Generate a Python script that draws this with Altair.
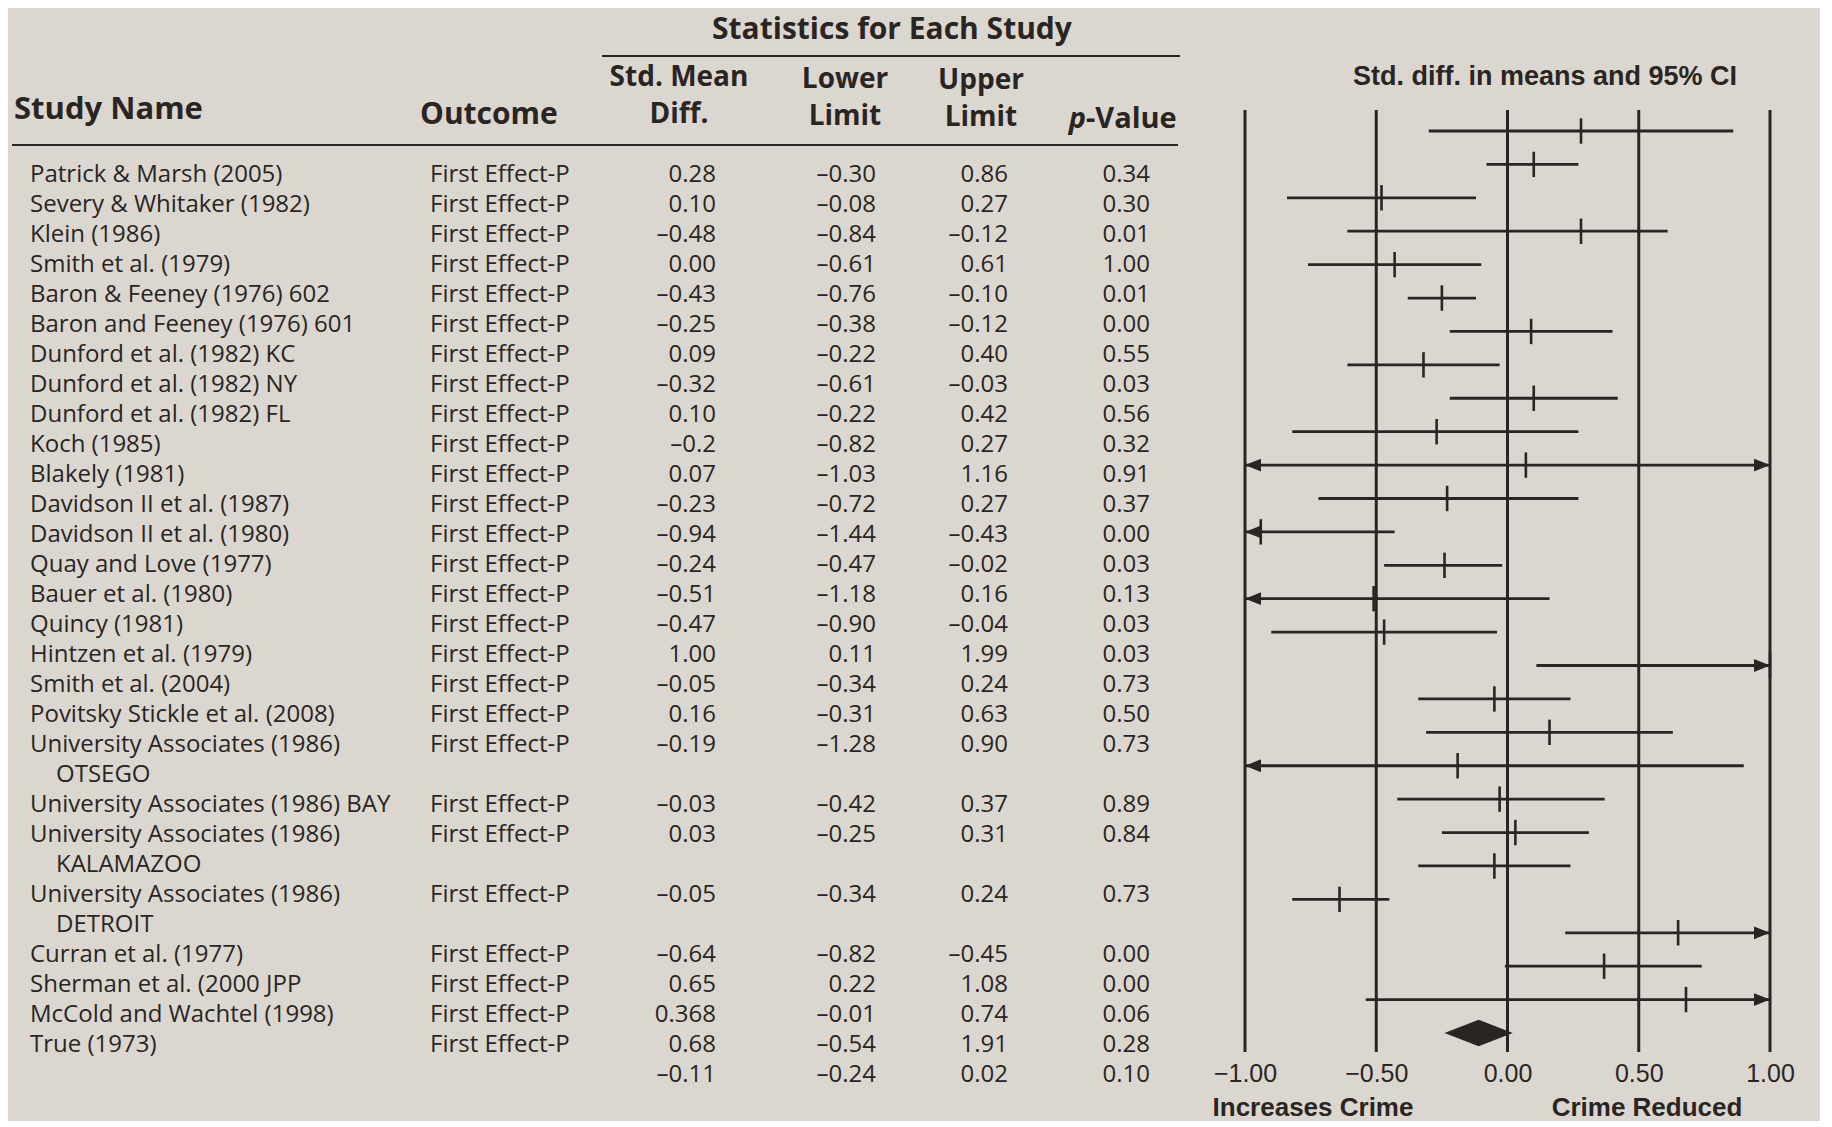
import altair as alt
import pandas as pd

# ---------------- data ----------------
study = [
    "Patrick & Marsh (2005)", "Severy & Whitaker (1982)", "Klein (1986)",
    "Smith et al. (1979)", "Baron & Feeney (1976) 602", "Baron and Feeney (1976) 601",
    "Dunford et al. (1982) KC", "Dunford et al. (1982) NY", "Dunford et al. (1982) FL",
    "Koch (1985)", "Blakely (1981)", "Davidson II et al. (1987)",
    "Davidson II et al. (1980)", "Quay and Love (1977)", "Bauer et al. (1980)",
    "Quincy (1981)", "Hintzen et al. (1979)", "Smith et al. (2004)",
    "Povitsky Stickle et al. (2008)", "University Associates (1986)",
    "University Associates (1986) BAY", "University Associates (1986)",
    "University Associates (1986)", "Curran et al. (1977)", "Sherman et al. (2000 JPP",
    "McCold and Wachtel (1998)", "True (1973)",
]
study_line2 = [""] * 19 + ["OTSEGO", "", "KALAMAZOO", "DETROIT"] + [""] * 4
outcome = ["First Effect-P"] * 27
smd_txt = ["0.28", "0.10", "–0.48", "0.00", "–0.43", "–0.25", "0.09", "–0.32", "0.10",
           "–0.2", "0.07", "–0.23", "–0.94", "–0.24", "–0.51", "–0.47", "1.00", "–0.05",
           "0.16", "–0.19", "–0.03", "0.03", "–0.05", "–0.64", "0.65", "0.368", "0.68"]
lower_txt = ["–0.30", "–0.08", "–0.84", "–0.61", "–0.76", "–0.38", "–0.22", "–0.61", "–0.22",
             "–0.82", "–1.03", "–0.72", "–1.44", "–0.47", "–1.18", "–0.90", "0.11", "–0.34",
             "–0.31", "–1.28", "–0.42", "–0.25", "–0.34", "–0.82", "0.22", "–0.01", "–0.54"]
upper_txt = ["0.86", "0.27", "–0.12", "0.61", "–0.10", "–0.12", "0.40", "–0.03", "0.42",
             "0.27", "1.16", "0.27", "–0.43", "–0.02", "0.16", "–0.04", "1.99", "0.24",
             "0.63", "0.90", "0.37", "0.31", "0.24", "–0.45", "1.08", "0.74", "1.91"]
p_txt = ["0.34", "0.30", "0.01", "1.00", "0.01", "0.00", "0.55", "0.03", "0.56",
         "0.32", "0.91", "0.37", "0.00", "0.03", "0.13", "0.03", "0.03", "0.73",
         "0.50", "0.73", "0.89", "0.84", "0.73", "0.00", "0.00", "0.06", "0.28"]
# point estimates as drawn in the forest plot
plot_est = [0.28, 0.10, -0.48, 0.28, -0.43, -0.25, 0.09, -0.32, 0.10,
            -0.27, 0.07, -0.23, -0.94, -0.24, -0.51, -0.47, 1.00, -0.05,
            0.16, -0.19, -0.03, 0.03, -0.05, -0.64, 0.65, 0.368, 0.68]
summary_txt = ["–0.11", "–0.24", "0.02", "0.10"]
grid_values = [-1.0, -0.5, 0.0, 0.5, 1.0]


def num(s):
    return float(s.replace("–", "-"))


# ---------------- styles ----------------
BG = "#dbd7d0"
INK = "#2a2522"
TFONT = "Open Sans"
AFONT = "Liberation Sans"
ROW_SIZE = 24
HEAD_SIZE = 28

# ---------------- table frame ----------------
rows = []
slot = 0
for i in range(len(study)):
    rows.append(dict(slot=slot, name=study[i], line2=study_line2[i], outcome=outcome[i],
                     smd=smd_txt[i], lo=lower_txt[i], hi=upper_txt[i], p=p_txt[i]))
    slot += 2 if study_line2[i] else 1
rows.append(dict(slot=slot, name="", line2="", outcome="", smd=summary_txt[0],
                 lo=summary_txt[1], hi=summary_txt[2], p=summary_txt[3]))
table_df = pd.DataFrame(rows)

ys_table = alt.Scale(domain=[0, 30], range=[167, 1067], nice=False, zero=False)
one = pd.DataFrame({"k": [0]})


def col(field, x, align, dy_slot=0, filt=None):
    c = alt.Chart(table_df)
    if filt:
        c = c.transform_filter(filt)
    c = c.transform_calculate(ys=f"datum.slot + {dy_slot}")
    return c.mark_text(align=align, baseline="middle", font=TFONT, fontSize=ROW_SIZE,
                       color=INK).encode(
        x=alt.value(x),
        y=alt.Y("ys:Q", scale=ys_table, axis=None),
        text=alt.Text(f"{field}:N"),
    )


def label(text, x, y, align="center", size=HEAD_SIZE, weight="bold", style="normal",
          font=TFONT):
    return alt.Chart(one).mark_text(text=text, align=align, baseline="middle", font=font,
                                    fontSize=size, fontWeight=weight, fontStyle=style,
                                    color=INK).encode(x=alt.value(x), y=alt.value(y))


def hline(x1, x2, y, w=2.2):
    return alt.Chart(one).mark_rule(color=INK, strokeWidth=w).encode(
        x=alt.value(x1), x2=alt.value(x2), y=alt.value(y))


table_layers = [
    col("name", 22, "left"),
    col("line2", 48, "left", dy_slot=1, filt="datum.line2 != ''"),
    col("outcome", 422, "left"),
    col("smd", 708, "right"),
    col("lo", 868, "right"),
    col("hi", 1000, "right"),
    col("p", 1142, "right"),
    label("Statistics for Each Study", 884, 22, size=30),
    hline(594, 1172, 48),
    label("Study Name", 6, 102, align="left", size=31),
    label("Outcome", 412, 107, align="left", size=30),
    label("Std. Mean", 671, 70),
    label("Diff.", 671, 107),
    label("Lower", 837, 72),
    label("Limit", 837, 109),
    label("Upper", 973, 73),
    label("Limit", 973, 110),
    label("p", 1078, 111, align="right", style="italic", size=29),
    label("-Value", 1078, 111, align="left", size=29),
    hline(4, 1170, 137),
]
table = alt.layer(*table_layers).properties(width=1190, height=1044)

# ---------------- forest plot ----------------
forest_df = pd.DataFrame({
    "row": list(range(len(study))),
    "est": plot_est,
    "lo": [num(s) for s in lower_txt],
    "hi": [num(s) for s in upper_txt],
})
xs = alt.Scale(domain=[-1, 1], nice=False, zero=False)
ys = alt.Scale(domain=[0, 27], range=[123, 1025], nice=False, zero=False)
XAXIS = alt.Axis(values=grid_values, format=".2f", domain=False, ticks=False, grid=False,
                 labelFont=AFONT, labelFontSize=25, labelColor=INK, labelPadding=9,
                 labelFlush=False, title=None)
HALF = 0.38

base = alt.Chart(forest_df).transform_calculate(
    lo_c="max(datum.lo, -1)", hi_c="min(datum.hi, 1)",
    y_top=f"datum.row - {HALF}", y_bot=f"datum.row + {HALF}")

grid = alt.Chart(pd.DataFrame({"g": grid_values})).mark_rule(
    color=INK, strokeWidth=3).encode(
    x=alt.X("g:Q", scale=xs, axis=XAXIS),
    y=alt.value(102), y2=alt.value(1044))

ci = base.mark_rule(color=INK, strokeWidth=2.8).encode(
    x=alt.X("lo_c:Q", scale=xs, axis=XAXIS), x2="hi_c:Q",
    y=alt.Y("row:Q", scale=ys, axis=None))

est = base.mark_rule(color=INK, strokeWidth=2.6).encode(
    x=alt.X("est:Q", scale=xs, axis=XAXIS),
    y=alt.Y("y_top:Q", scale=ys, axis=None), y2="y_bot:Q")

arrow_r = base.transform_filter("datum.hi > 1").mark_point(
    shape="M0,0L-2,-0.8L-2,0.8Z", filled=True, size=256, opacity=1, color=INK,
    strokeWidth=0).encode(
    x=alt.X("hi_c:Q", scale=xs, axis=XAXIS), y=alt.Y("row:Q", scale=ys, axis=None))

arrow_l = base.transform_filter("datum.lo < -1").mark_point(
    shape="M0,0L2,-0.8L2,0.8Z", filled=True, size=256, opacity=1, color=INK,
    strokeWidth=0).encode(
    x=alt.X("lo_c:Q", scale=xs, axis=XAXIS), y=alt.Y("row:Q", scale=ys, axis=None))

s_est, s_lo, s_hi = num(summary_txt[0]), num(summary_txt[1]), num(summary_txt[2])
s_row = len(study)
diamond_df = pd.DataFrame({
    "x": [s_lo, s_est, s_hi],
    "y_top": [s_row, s_row - 0.4, s_row],
    "y_bot": [s_row, s_row + 0.4, s_row],
})
diamond = alt.Chart(diamond_df).mark_area(color=INK, opacity=1).encode(
    x=alt.X("x:Q", scale=xs, axis=XAXIS),
    y=alt.Y("y_top:Q", scale=ys, axis=None), y2="y_bot:Q")

f_title = label("Std. diff. in means and 95% CI", 300, 69, size=27, font=AFONT)
inc = label("Increases Crime", 68, 1100, size=26, font=AFONT)
red = label("Crime Reduced", 402, 1100, size=26, font=AFONT)

forest = alt.layer(grid, ci, est, arrow_r, arrow_l, diamond, f_title, inc, red).properties(
    width=525, height=1044)

chart = alt.hconcat(
    table, forest, spacing=47, bounds="flush",
    padding={"left": 0, "top": 0, "right": 25, "bottom": 0},
).properties(background=BG).configure_view(stroke=None)

chart.save("out.html", embed_options={"renderer": "svg", "actions": False})
